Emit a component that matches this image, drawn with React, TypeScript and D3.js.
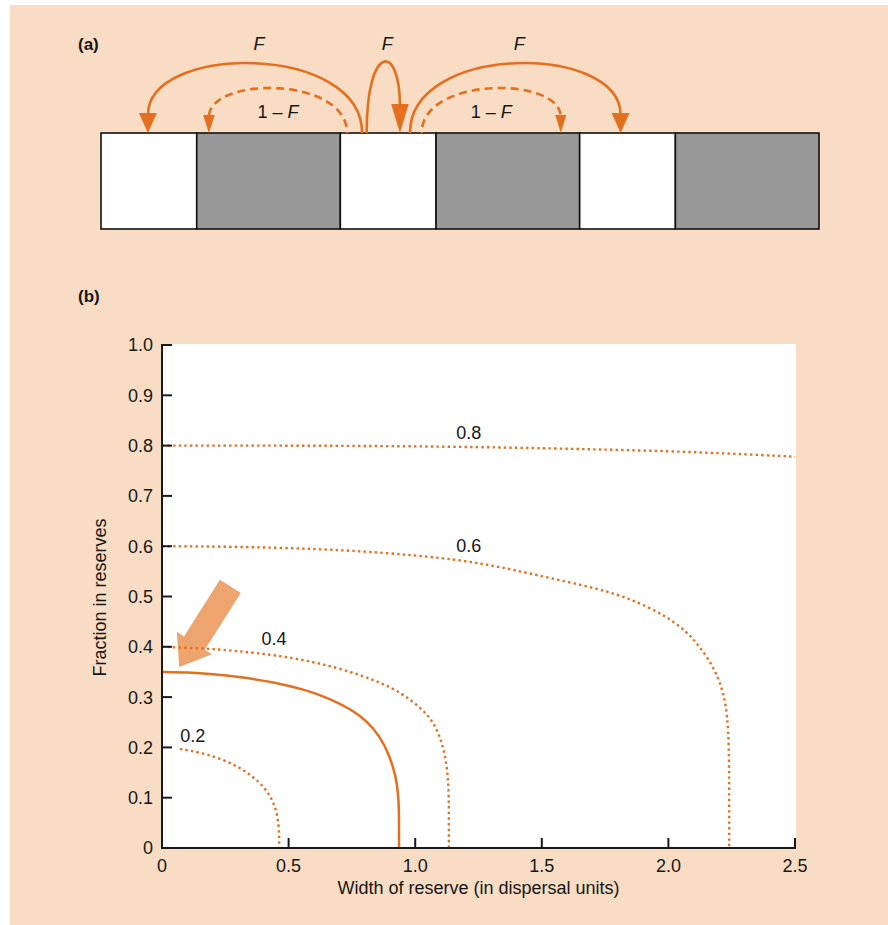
import React from "react";
import * as d3 from "d3";

// ---------- Panel (b) data: contour lines (x = reserve width, y = fraction in reserves) ----------
const contour02: [number, number][] = [
  [0.071, 0.197], [0.15, 0.19], [0.229, 0.178], [0.3, 0.162], [0.36, 0.142],
  [0.405, 0.12], [0.435, 0.097], [0.453, 0.072], [0.461, 0.045], [0.463, 0.02], [0.463, 0],
];
const contour035: [number, number][] = [
  [0, 0.35], [0.1, 0.349], [0.2, 0.346], [0.308, 0.34], [0.44, 0.33], [0.571, 0.314],
  [0.663, 0.297], [0.75, 0.275], [0.81, 0.252], [0.861, 0.222], [0.9, 0.182],
  [0.922, 0.145], [0.933, 0.11], [0.936, 0.07], [0.936, 0.03], [0.936, 0],
];
const contour04: [number, number][] = [
  [0, 0.4], [0.2, 0.396], [0.308, 0.391], [0.44, 0.384], [0.571, 0.373], [0.703, 0.357],
  [0.834, 0.335], [0.9, 0.32], [0.966, 0.301], [1.032, 0.274], [1.072, 0.25],
  [1.1, 0.218], [1.118, 0.185], [1.129, 0.145], [1.133, 0.1], [1.133, 0.05], [1.133, 0],
];
const contour06: [number, number][] = [
  [0, 0.6], [0.3, 0.599], [0.6, 0.595], [0.86, 0.588], [1.125, 0.576], [1.256, 0.566],
  [1.39, 0.553], [1.52, 0.538], [1.73, 0.515], [1.862, 0.493], [1.993, 0.461],
  [2.072, 0.43], [2.125, 0.4], [2.178, 0.36], [2.21, 0.321], [2.227, 0.285],
  [2.237, 0.235], [2.24, 0.16], [2.24, 0.08], [2.24, 0],
];
const contour08: [number, number][] = [
  [0, 0.8], [0.5, 0.8], [1.0, 0.799], [1.5, 0.795], [1.75, 0.792], [2.0, 0.789],
  [2.25, 0.784], [2.5, 0.778],
];
const contourLabels = ["0.2", "0.4", "0.6", "0.8"];
const contourLabelX = [0.122, 0.442, 1.212, 1.212];
const contourLabelY = [0.211, 0.404, 0.588, 0.813];

const xTicks = [0, 0.5, 1.0, 1.5, 2.0, 2.5];
const yTicks = [0, 0.1, 0.2, 0.3, 0.4, 0.5, 0.6, 0.7, 0.8, 0.9, 1.0];

// big pointer arrow (data coordinates): tail -> tip
const pointerTail: [number, number] = [0.27, 0.52];
const pointerTip: [number, number] = [0.068, 0.36];

// ---------- Panel (a) data ----------
const cellTypes = ["reserve", "fished", "reserve", "fished", "reserve", "fished"];
const cellWidths = [0.4, 0.6, 0.4, 0.6, 0.4, 0.6];
const arcFrom = [1.091, 1.028, 1.11, 1.291, 1.34];
const arcTo = [0.196, 0.451, 1.249, 2.171, 1.921];
const arcDashed = [false, true, false, false, true];
const arcLabels = ["F", "1 – F", "F", "F", "1 – F"];

const ORANGE = "#E46F1F";
const FONT = "'Liberation Sans', Arial, Helvetica, sans-serif";
const TEXT = "#161616";

export default function App() {
  const W = 888, H = 925;
  // panel (b) scales
  const x = d3.scaleLinear().domain([0, 2.5]).range([162, 795]);
  const y = d3.scaleLinear().domain([0, 1]).range([848, 345]);
  const line = d3.line<[number, number]>()
    .x((d) => x(d[0]))
    .y((d) => y(d[1]))
    .curve(d3.curveBasis);

  const dotted = [contour02, contour04, contour06, contour08];

  // pointer arrow polygon
  const tx = x(pointerTail[0]), ty = y(pointerTail[1]);
  const px = x(pointerTip[0]), py = y(pointerTip[1]);
  const len = Math.hypot(px - tx, py - ty);
  const ux = (px - tx) / len, uy = (py - ty) / len;
  const nx = -uy, ny = ux;
  const shaftW = 24.7, headW = 41.7, headL = 28.3;
  const bx = px - ux * headL, by = py - uy * headL;
  const pts = [
    [tx + nx * shaftW / 2, ty + ny * shaftW / 2],
    [bx + nx * shaftW / 2, by + ny * shaftW / 2],
    [bx + nx * headW / 2, by + ny * headW / 2],
    [px, py],
    [bx - nx * headW / 2, by - ny * headW / 2],
    [bx - nx * shaftW / 2, by - ny * shaftW / 2],
    [tx - nx * shaftW / 2, ty - ny * shaftW / 2],
  ];

  // panel (a) scale
  const xa = d3.scaleLinear().domain([0, 3]).range([101, 819]);
  const boxTop = 133, boxBottom = 229;
  const starts = cellWidths.reduce<number[]>((acc, w, i) => {
    acc.push(i === 0 ? 0 : acc[i - 1] + cellWidths[i - 1]);
    return acc;
  }, []);

  const arcPeaks = [63, 88, 61.7, 63, 88];
  const arcHeadW = [18, 11.7, 17.5, 18, 11];
  const arcHeadL = [20, 18, 29, 20, 18];

  return (
    <svg width={W} height={H} style={{ position: "absolute", left: 0, top: 0 }} fontFamily={FONT}>
      <rect x={0} y={0} width={W} height={H} fill="#ffffff" />
      <rect x={10} y={5} width={W - 10} height={H - 5} fill="#F8DCC4" />

      {/* ---------- Panel (a) ---------- */}
      <text x={78} y={50} fontSize={17} fontWeight="bold" fill={TEXT}>(a)</text>
      {cellTypes.map((t, i) => (
        <rect key={i} x={xa(starts[i])} y={boxTop} width={xa(starts[i] + cellWidths[i]) - xa(starts[i])}
          height={boxBottom - boxTop} fill={t === "reserve" ? "#ffffff" : "#999999"}
          stroke="#111" strokeWidth={1.6} />
      ))}
      {arcFrom.map((f, i) => {
        const x0 = xa(f), x1 = xa(arcTo[i]);
        const endY = boxTop - arcHeadL[i];
        const h = (arcPeaks[i] - 0.125 * (boxTop + endY)) / 0.75;
        const d = `M${x0},${boxTop} C${x0},${h} ${x1},${h} ${x1},${endY + 2}`;
        const hw = arcHeadW[i] / 2;
        const mid = (x0 + x1) / 2;
        const isDashed = arcDashed[i];
        return (
          <g key={i}>
            <path d={d} fill="none" stroke={ORANGE} strokeWidth={2.6}
              strokeDasharray={isDashed ? "8 5" : undefined} strokeDashoffset={isDashed ? 7 : 0} />
            <path d={`M${x1},${boxTop} L${x1 - hw},${endY} L${x1 + hw},${endY} Z`} fill={ORANGE} />
            {isDashed ? (
              <text x={mid} y={118} fontSize={18} textAnchor="middle" fill={TEXT}
                style={{ whiteSpace: "pre" }}>
                {"1 – "}<tspan fontStyle="italic">F</tspan>
              </text>
            ) : (
              <text x={mid + 4} y={50} fontSize={18} textAnchor="middle" fontStyle="italic" fill={TEXT}>
                {arcLabels[i]}
              </text>
            )}
          </g>
        );
      })}

      {/* ---------- Panel (b) ---------- */}
      <text x={78} y={302} fontSize={17} fontWeight="bold" fill={TEXT}>(b)</text>
      <rect x={x(0)} y={y(1) - 1} width={x(2.5) - x(0) + 1} height={y(0) - y(1) + 1} fill="#ffffff" />

      <polygon points={pts.map((p) => p.join(",")).join(" ")} fill="#EEA46E" />

      {dotted.map((c, i) => (
        <path key={i} d={line(c) || ""} fill="none" stroke={ORANGE} strokeWidth={2.4}
          strokeDasharray="2.4 3.2" />
      ))}
      <path d={line(contour035) || ""} fill="none" stroke={ORANGE} strokeWidth={2.5} />

      {contourLabels.map((l, i) => (
        <text key={l} x={x(contourLabelX[i])} y={y(contourLabelY[i])} fontSize={18}
          textAnchor="middle" fill={TEXT}>{l}</text>
      ))}

      {/* axes */}
      <line x1={x(0)} x2={x(0)} y1={y(1) - 1} y2={y(0) + 1} stroke="#1a1a1a" strokeWidth={2} />
      <line x1={x(0) - 1} x2={x(2.5) + 1} y1={y(0)} y2={y(0)} stroke="#1a1a1a" strokeWidth={2} />
      {yTicks.map((t) => (
        <g key={"y" + t}>
          <line x1={x(0)} x2={x(0) + 10} y1={y(t)} y2={y(t)} stroke="#1a1a1a" strokeWidth={2} />
          <text x={153} y={y(t)} dy="0.36em" fontSize={18} textAnchor="end" fill={TEXT}>
            {t === 0 ? "0" : d3.format(".1f")(t)}
          </text>
        </g>
      ))}
      {xTicks.map((t) => (
        <g key={"x" + t}>
          <line x1={x(t)} x2={x(t)} y1={y(0)} y2={y(0) - 10} stroke="#1a1a1a" strokeWidth={2} />
          <text x={x(t)} y={872} fontSize={18} textAnchor="middle" fill={TEXT}>
            {t === 0 ? "0" : d3.format(".1f")(t)}
          </text>
        </g>
      ))}
      <text x={(x(0) + x(2.5)) / 2} y={894} fontSize={18} textAnchor="middle" fill={TEXT}>
        Width of reserve (in dispersal units)
      </text>
      <text transform={`translate(106, ${(y(0) + y(1)) / 2 + 1}) rotate(-90)`} fontSize={18}
        textAnchor="middle" fill={TEXT}>
        Fraction in reserves
      </text>
    </svg>
  );
}
